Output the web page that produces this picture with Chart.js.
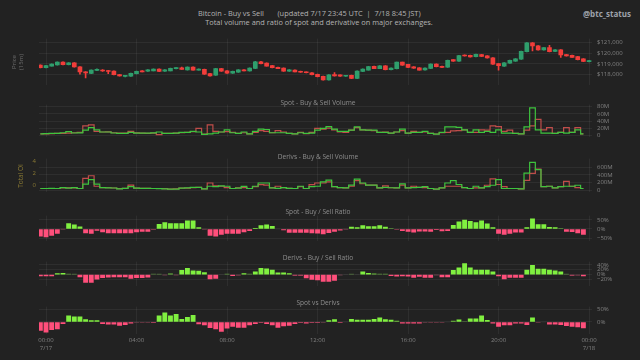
<!DOCTYPE html>
<html>
<head>
<meta charset="utf-8">
<script src="https://cdn.jsdelivr.net/npm/chart.js@4.4.1/dist/chart.umd.min.js"></script>
<style>
  html, body { margin: 0; padding: 0; background: #222222; }
  #wrap { position: relative; width: 640px; height: 360px; overflow: hidden; background: #222222; font-family: "Open Sans", sans-serif; }
  .panel { position: absolute; left: 0; width: 640px; }
  .txt { position: absolute; white-space: pre; transform: translate(-50%, -50%); line-height: 1; }
  .title { color: #b4b4b4; font-size: 7.4px; }
  .ptitle { color: #8e8e8e; font-size: 6.6px; }
  .rot { transform: translate(-50%, -50%) rotate(-90deg); }
</style>
</head>
<body>
<div id="wrap">
  <div class="panel" style="top:30px;height:64px"><canvas id="price"></canvas></div>
  <div class="panel" style="top:96px;height:50px"><canvas id="spotVol"></canvas></div>
  <div class="panel" style="top:150px;height:51px"><canvas id="derivVol"></canvas></div>
  <div class="panel" style="top:207px;height:43px"><canvas id="spotRatio"></canvas></div>
  <div class="panel" style="top:253px;height:42px"><canvas id="derivRatio"></canvas></div>
  <div class="panel" style="top:298px;height:62px"><canvas id="spotVsDeriv"></canvas></div>

  <div class="txt title" style="left:231px;top:14px">Bitcoin - Buy vs Sell</div>
  <div class="txt title" style="left:349px;top:14px">(updated 7/17 23:45 UTC  |  7/18 8:45 JST)</div>
  <div class="txt title" style="left:319px;top:23px">Total volume and ratio of spot and derivative on major exchanges.</div>
  <div class="txt" style="left:607px;top:14px;color:#9ea3ab;font-size:8px;font-weight:bold">@btc_status</div>

  <div class="txt ptitle" style="left:318px;top:103px">Spot - Buy &amp; Sell Volume</div>
  <div class="txt ptitle" style="left:318px;top:157px">Derivs - Buy &amp; Sell Volume</div>
  <div class="txt ptitle" style="left:318px;top:212px">Spot - Buy / Sell Ratio</div>
  <div class="txt ptitle" style="left:318px;top:258px">Derivs - Buy / Sell Ratio</div>
  <div class="txt ptitle" style="left:318px;top:303px">Spot vs Derivs</div>

  <div class="txt rot" style="left:14px;top:62px;color:#6e6e6e;font-size:6px">Price</div>
  <div class="txt rot" style="left:21px;top:62px;color:#6e6e6e;font-size:6px">(15m)</div>
  <div class="txt rot" style="left:21px;top:176px;color:#8a7a34;font-size:6.5px">Total OI</div>
</div>

<script>
// 15-minute bars, hours relative to 00:00 7/17 (first bar is 23:45 7/16)
const START_HOUR = -0.25;
const STEP_HOUR = 0.25;

const priceOpen = [118890,118660,118800,118910,119180,118930,119110,118730,118270,118110,
  118390,118430,118390,118340,118020,117840,117860,118090,118360,118320,
  118360,118520,118320,118360,118560,118640,118450,118700,118430,118500,
  118110,117950,118570,118360,118140,118230,118450,118340,118590,119200,
  119070,118840,118680,118610,118320,118430,118320,118250,118180,118040,
  117860,117520,118020,117980,117860,117950,117660,118300,118430,118770,
  118570,118820,118460,118550,119160,118950,118730,118640,118450,118590,
  118980,118770,118700,119390,119250,119820,119800,119660,119860,119750,
  119570,119020,118780,119070,119250,119430,120140,120950,120680,120300,
  120520,120160,120300,119860,119800,119680,119480,119210];
const priceHigh = [118910,118860,119000,119200,119200,119130,119130,118750,118290,118450,
  118550,118480,118410,118360,118030,117950,118160,118340,118380,118470,
  118540,118540,118470,118610,118650,118700,118740,118720,118540,118520,
  118130,118590,118590,118380,118340,118470,118470,118630,119230,119230,
  119090,118860,118700,118630,118470,118450,118340,118270,118200,118060,
  117880,118020,118200,118000,117940,117970,118360,118540,118770,118800,
  118840,118840,118630,119180,119180,118970,118750,118660,118630,119000,
  119000,118790,119360,119410,119790,119840,119820,119910,119880,119770,
  119590,119040,119130,119360,119500,120180,120980,120980,120700,120520,
  120730,120320,120320,119880,119820,119700,119500,119320];
const priceLow = [118640,118640,118780,118890,118910,118910,118700,118050,117700,118090,
  118370,118300,118090,117980,117860,117800,117840,118070,118250,118300,
  118340,118280,118300,118340,118540,118480,118430,118410,118410,118030,
  117860,117930,118300,118120,118120,118210,118340,118320,118570,119000,
  118780,118640,118550,118300,118300,118250,118210,118160,117980,117800,
  117500,117500,117870,117840,117840,117640,117640,118280,118410,118550,
  118550,118440,118440,118530,118870,118660,118590,118410,118430,118570,
  118730,118660,118680,119230,119230,119710,119620,119640,119680,119530,
  118960,118430,118760,119050,119230,119410,120120,120200,120280,120280,
  120120,120140,119590,119710,119590,119370,119210,119190];
const priceClose = [118660,118840,118980,119180,118930,119110,118730,118270,118160,118430,
  118500,118340,118300,118000,117890,117920,118140,118320,118270,118450,
  118520,118300,118450,118590,118610,118500,118700,118430,118520,118050,
  117890,118570,118320,118140,118320,118450,118360,118610,119200,119020,
  118800,118660,118570,118320,118450,118270,118230,118180,118000,117820,
  117520,118000,117890,117860,117910,117660,118340,118520,118750,118570,
  118820,118460,118610,119160,118890,118680,118610,118430,118610,118980,
  118750,118680,119340,119250,119770,119730,119640,119890,119700,119550,
  118980,118840,119110,119340,119480,120160,120950,120660,120300,120500,
  120140,120300,119820,119730,119610,119390,119230,119300];

// volumes in millions (USD)
const spotBuy = [4.8,5.5,6,6.5,8,11,7.3,7.5,15,22, 16,10,10,7.3,6,6.5,9,7,7,7,
  7.5,10,6,6,7,9,9,12,10,3.5, 5,7,10,16,8,6,10,5,12,18,
  17,8,8,8,6,5,8,6,7,15, 20,25,18,12,12,15,24,16,15,15,
  9,9,7,10,18,7,9,9,12,6.5, 4,9,24,24,23,16,9,16,9,12,
  9,16,7,7,6,5,24,77,16,7, 7,6,9,7,9,16,5];
const spotSell = [4.8,5,5.5,6,6.5,7,8,9,27,30, 12,10,10.5,8,7,7,12,7.5,7,6.5,
  7,3,6.5,6,7,8,9,11,20,4, 30,12,10,11,9,6,8,5,9,14,
  12,8,14,10,6,5,9,5.5,9,20, 18,21,16,10,9,15,22,16,15,14,
  9,10,7,10,14,7,12,9,10,6.5, 4.5,8,9,13,14,16,9,9,16,15,
  27,25,12,15,6,5,15,27,45,16, 22,6,9,22,9,22,5];
const derivBuy = [45,45,50,45,70,55,70,45,160,280, 160,70,60,58,35,50,95,55,50,50,
  45,40,35,30,30,55,60,75,75,35, 105,95,115,105,45,55,100,45,105,190,
  190,60,50,70,50,45,105,45,95,105, 220,265,95,70,60,135,290,190,135,135,
  60,75,65,60,165,60,70,75,95,45, 30,60,190,250,150,70,45,105,60,95,
  130,280,45,45,45,35,450,730,540,95, 105,60,95,105,105,130,45];
const derivSell = [45,45,45,45,60,60,60,45,310,380, 105,70,65,58,40,50,135,55,50,50,
  45,45,40,30,35,55,55,70,75,35, 190,115,105,70,45,60,70,45,95,145,
  135,60,105,70,50,45,95,45,145,190, 190,220,95,70,60,105,250,170,135,135,
  60,115,65,60,135,60,105,75,70,45, 30,60,105,105,105,70,45,60,60,130,
  300,150,95,45,45,35,260,440,555,95, 105,60,95,230,105,70,45];

// ratios in percent
const spotRatio = [-40,-43,-35,-24,-1, 30,22,12,
  -21,-24,-8,-16,-21,-21,-21,-21,-21,-16,-13,-13,-2,
  25,35,30,30,30,45,44,7, -1,
  -36,-40,-30,-24,-24,-24,-16,-10, 4,19,23,14, 0,
  -5,-19,-19,-19,-19, -22,-23,-27,-20,-14,-6,-1,
  10,7,19,13,13,19,10,2,-3, -10,-14,-17,-12,-12,-14,-4,-11,-9,
  20,39,48,42,35,45,28,7, -25,-30,-25,-17,-17,
  8,56,24,24,9,8,2, -13,-15,-22,-30];
const derivRatio = [-6,-6,-6,4,5,2,1,-10,
  -32,-32,-19,-13,-11,-10,-10,-10,-16,-13,-13,-11,
  1.5,1,-1,3,-1, 18,26,16,15,8, -18,-16, 0,2,-4,-2,4,2,
  11,26,24,19,7,7,4, -3,-3, -14,-20,-22,-28,-28,-24,
  -1,0,1,0, 11,5,3,2,2, -4,-7,-6,-7,-12,-8,-12,-12,-1,-10,-10,
  18,28,46,28,19,19,19,11, -6,-18,-12,-12,-12,
  19,38,23,23,19,16,11, 1,-3,-2,-6];
const spotVsDeriv = [-33,-40,-30,-27,-7, 24,20,20,9,5,5,
  -7,-9,-9,-14,-11,-5,-1,-2,-2,-3, 24,36,24,30,10,18,26,
  -8,-12,-22,-27,-37,-24,-18,-21,-21,-12,-7,-3,-7,-12,-21,-16,-14,-7,-3,-5,
  -3,-3,-1, 5,9, -3,0, 10,7,7,7,10,16,9,7,3,
  -5,-5,-5,-5,-1,-2,-2,-2,0, 3,8,1,12,12,24,6,
  -5,-18,-12,-12,-5,-5,-11, 16, -2,0,
  -9,-9,-11,-15,-18,-20,-23];

const hourTicks = [0, 4, 8, 12, 16, 20, 24];
const priceTicks = [118000, 119000, 120000, 121000];
const spotVolTicks = [0, 20, 40, 60, 80];
const derivVolTicks = [0, 200, 400, 600];
const oiTicks = [0, 2, 4];
const spotRatioTicks = [-50, 0, 50];
const derivRatioTicks = [-20, 0, 20, 40];
const spotVsDerivTicks = [0, 50];

// ---- style ----
const BG_GRID = 'rgba(255,255,255,0.055)';
const TICK_COLOR = '#808080';
const TICK_FONT = { family: 'Open Sans', size: 6 };
const UP = '#2f9e6c', DOWN = '#f23d3a';
const BUY_LINE = '#3ec43e', SELL_LINE = '#c04d4a';
const X_MIN = -0.31, X_MAX = 24.13;

const hourAt = k => START_HOUR + STEP_HOUR * k;

function xy(values) {
  return values.map((v, k) => ({ x: hourAt(k), y: v }));
}

function ratioColor(v) {
  const base = v >= 0 ? [128, 240, 64] : [255, 79, 123];
  const m = Math.min(Math.abs(v) / 4, 1);
  const dark = [58, 58, 58];
  const c = base.map((b, i) => Math.round(dark[i] + (b - dark[i]) * m));
  return 'rgb(' + c.join(',') + ')';
}

function pad2(n) { return (n < 10 ? '0' : '') + n; }

function xScale(showLabels) {
  return {
    type: 'linear', min: X_MIN, max: X_MAX, offset: false,
    afterBuildTicks: axis => { axis.ticks = hourTicks.map(v => ({ value: v })); },
    afterFit: axis => { axis.height = showLabels ? 26 : 0; },
    grid: { color: BG_GRID, drawTicks: false, offset: false },
    border: { display: false },
    ticks: {
      display: showLabels, color: TICK_COLOR, font: TICK_FONT, padding: 3,
      maxRotation: 0, autoSkip: false,
      callback: v => v === 0 ? ['00:00', '7/17'] : v === 24 ? ['00:00', '7/18'] : pad2(v) + ':00'
    }
  };
}

function yScale(min, max, ticks, fmt) {
  return {
    position: 'right', min: min, max: max,
    afterBuildTicks: axis => { axis.ticks = ticks.map(v => ({ value: v })); },
    afterFit: axis => { axis.width = 48; },
    grid: { color: BG_GRID, drawTicks: false },
    border: { display: false },
    ticks: { color: TICK_COLOR, font: TICK_FONT, padding: 5, autoSkip: false, callback: fmt }
  };
}

function makeChart(id, type, datasets, scales, padLeft) {
  return new Chart(document.getElementById(id), {
    type: type,
    data: { datasets: datasets },
    options: {
      responsive: true, maintainAspectRatio: false, animation: false, events: [],
      layout: { padding: { left: padLeft, right: 0, top: 0, bottom: 0 } },
      plugins: { legend: { display: false }, tooltip: { enabled: false } },
      scales: scales
    }
  });
}

const pctFmt = v => v < 0 ? '\u2212' + Math.abs(v) + '%' : v + '%';
const volFmt = v => v === 0 ? '0' : v + 'M';

// 1. Price candles (wick + body as floating bars)
const candleColors = priceClose.map((c, k) => c >= priceOpen[k] ? UP : DOWN);
makeChart('price', 'bar', [
  {
    data: priceOpen.map((o, k) => ({ x: hourAt(k), y: [o, priceClose[k]] })),
    backgroundColor: candleColors, barThickness: 4, minBarLength: 1, grouped: false, borderWidth: 0
  },
  {
    data: priceLow.map((l, k) => ({ x: hourAt(k), y: [l, priceHigh[k]] })),
    backgroundColor: candleColors, barThickness: 1, grouped: false, borderWidth: 0
  }
], {
  x: xScale(false),
  y: yScale(117012, 121341, priceTicks, v => '$' + v.toLocaleString('en-US'))
}, 39);

// 2. Spot buy / sell volume
function volLine(values, color) {
  return { data: xy(values), borderColor: color, borderWidth: 1.2, pointRadius: 0, stepped: 'middle', fill: false };
}
makeChart('spotVol', 'line', [volLine(spotBuy, BUY_LINE), volLine(spotSell, SELL_LINE)], {
  x: xScale(false),
  y: yScale(-4.9, 86, spotVolTicks, volFmt)
}, 39);

// 3. Derivs buy / sell volume (+ empty Total OI axis)
makeChart('derivVol', 'line', [volLine(derivBuy, BUY_LINE), volLine(derivSell, SELL_LINE)], {
  x: xScale(false),
  y: yScale(-57, 830, derivVolTicks, volFmt),
  oi: {
    position: 'left', min: -1.2, max: 4.37,
    afterBuildTicks: axis => { axis.ticks = oiTicks.map(v => ({ value: v })); },
    afterFit: axis => { axis.width = 39; },
    grid: { display: false, drawTicks: false }, border: { display: false },
    ticks: { color: '#8a7a34', font: TICK_FONT, padding: 3, autoSkip: false, maxRotation: 0 }
  }
}, 0);

// 4-6. Ratio bars
function ratioBars(values) {
  return { data: xy(values), backgroundColor: values.map(ratioColor), barThickness: 4.2, borderWidth: 0 };
}
makeChart('spotRatio', 'bar', [ratioBars(spotRatio)], {
  x: xScale(false),
  y: yScale(-68, 73, spotRatioTicks, pctFmt)
}, 39);
makeChart('derivRatio', 'bar', [ratioBars(derivRatio)], {
  x: xScale(false),
  y: yScale(-48.8, 53.7, derivRatioTicks, pctFmt)
}, 39);
makeChart('spotVsDeriv', 'bar', [ratioBars(spotVsDeriv)], {
  x: xScale(true),
  y: yScale(-47.4, 60.5, spotVsDerivTicks, pctFmt)
}, 39);
</script>
</body>
</html>
